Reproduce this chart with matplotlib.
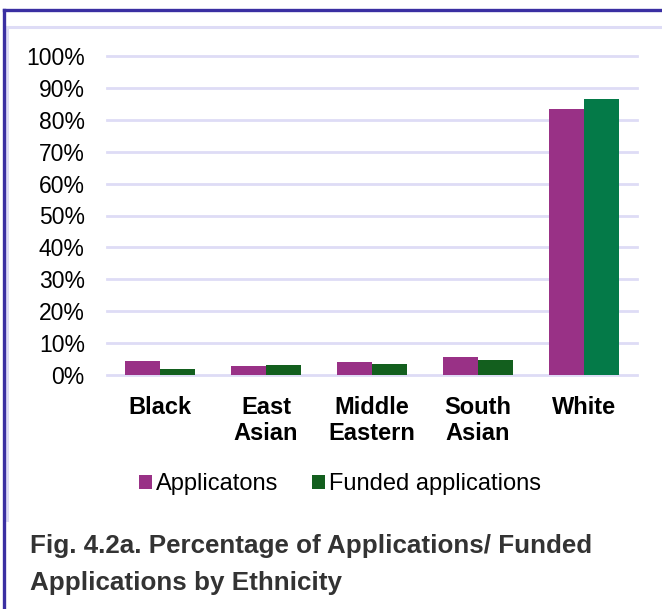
import matplotlib.pyplot as plt
from matplotlib.lines import Line2D
from matplotlib.patches import Patch
from matplotlib.ticker import PercentFormatter

plt.rcParams['font.family'] = ['Liberation Sans', 'DejaVu Sans']

# share of applications / funded applications by ethnic group (%)
ethnicity = ['Black', 'East\nAsian', 'Middle\nEastern', 'South\nAsian', 'White']
applications = [4.3, 2.9, 4.0, 5.5, 83.3]
funded = [1.9, 3.1, 3.5, 4.6, 86.5]

purple = '#993186'
dark_green = '#135f1e'
bright_green = '#047a48'
grid_col = '#dedcf6'

W, H = 662, 609
fig = plt.figure(figsize=(W / 100, H / 100), dpi=100)
ax = fig.add_axes([107 / W, 1 - 375 / H, 530 / W, 319 / H])

x = list(range(len(ethnicity)))
bw = 1 / 3
ax.bar([i - bw / 2 for i in x], applications, width=bw, color=purple, zorder=3)
funded_colors = [dark_green] * (len(x) - 1) + [bright_green]
ax.bar([i + bw / 2 for i in x], funded, width=bw, color=funded_colors, zorder=3)

ax.set_xlim(-0.5, len(x) - 0.5)
ax.set_ylim(0, 100)
ax.set_yticks(range(0, 101, 10))
ax.yaxis.set_major_formatter(PercentFormatter(decimals=0))
ax.set_xticks(x)
ax.set_xticklabels(ethnicity, fontweight='bold', fontsize=17, linespacing=1.2)
ax.tick_params(axis='y', length=0, pad=16, labelsize=16.5)
ax.tick_params(axis='x', length=0, pad=15)
for s in ax.spines.values():
    s.set_visible(False)
for v in range(0, 101, 10):
    ax.axhline(v, color=grid_col, lw=2, zorder=1, clip_on=False)

# legend with square markers
handles = [Patch(facecolor=purple, label='Applicatons'),
           Patch(facecolor=dark_green, label='Funded applications')]
fig.legend(handles=handles, loc='center', bbox_to_anchor=(340 / W, 1 - 484 / H),
           ncol=2, frameon=False, fontsize=17, handlelength=0.55, handleheight=0.55,
           handletextpad=0.2, columnspacing=1.4, borderpad=0)

# caption
fig.text(30 / W, 1 - 546 / H, 'Fig. 4.2a. Percentage of Applications/ Funded',
         fontsize=18.7, fontweight='bold', color='#333333', va='center', ha='left')
fig.text(30 / W, 1 - 583 / H, 'Applications by Ethnicity',
         fontsize=18.7, fontweight='bold', color='#333333', va='center', ha='left')

# frame lines around the panel
def px_line(xs, ys, color, lw):
    fig.add_artist(Line2D([v / W for v in xs], [1 - v / H for v in ys],
                          transform=fig.transFigure, color=color, lw=lw))

px_line([7, W], [27, 27], grid_col, 2.2)
px_line([7, 7], [27, 520], grid_col, 2.2)
px_line([4, W], [10, 10], '#3a2fa2', 2.4)
px_line([4, 4], [10, H], '#3a2fa2', 2.4)

fig.savefig('out.png', dpi=100)
